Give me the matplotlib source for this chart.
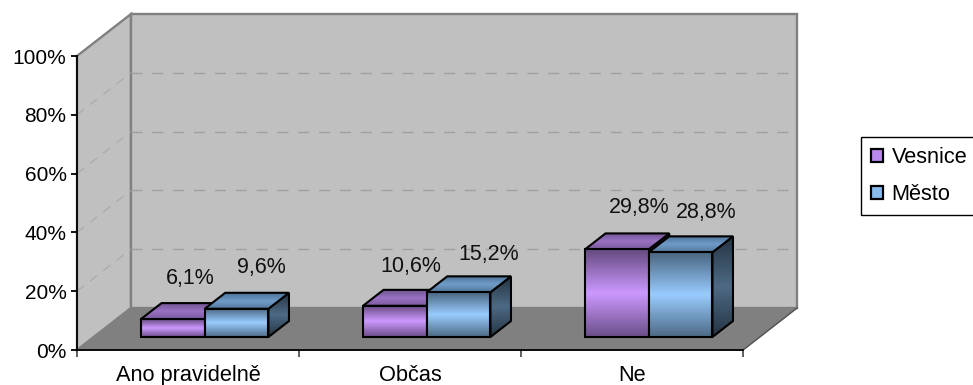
import numpy as np
import matplotlib
matplotlib.use('Agg')
import matplotlib.pyplot as plt
from matplotlib.colors import LinearSegmentedColormap
from matplotlib.patches import Patch, Polygon

plt.rcParams['font.family'] = ['Liberation Sans', 'DejaVu Sans']

categories = ['Ano pravidelně', 'Občas', 'Ne']
series_names = ['Vesnice', 'Město']
vesnice = [6.1, 10.6, 29.8]
mesto = [9.6, 15.2, 28.8]
value_labels = [['6,1%', '10,6%', '29,8%'], ['9,6%', '15,2%', '28,8%']]
y_ticks = [0, 20, 40, 60, 80, 100]
y_tick_labels = ['0%', '20%', '40%', '60%', '80%', '100%']

# label offsets from the top of each bar's front face, in pixels
label_offsets = [[(17, 41), (16, 39), (22, 42)], [(25, 41), (30, 38), (26, 40)]]

# oblique projection: how far one full unit of depth shifts a point
DX = 54 / 222
DY = 42 / 2.94
BAR_W = 0.287
BAR_D0 = 0.31
BAR_D1 = 0.69

front_cols = [['#654a80', '#cc99ff', '#6b4e88'], ['#4a6580', '#99ccff', '#4d6a85']]
top_cols = [['#6f5490', '#9a72c4', '#7a5a9c'], ['#4d7196', '#6f9cc8', '#54789c']]
side_cols = [['#3a2a4c', '#66508a', '#3a2a4c'], ['#243442', '#4d6a85', '#243442']]
legend_cols = ['#bb88ee', '#88bbee']


def proj(x, y, d):
    return x + d * DX, y + d * DY


def face(ax, pts, colors, z):
    # gradient running top to bottom, clipped to the polygon of the face
    xs = [p[0] for p in pts]
    ys = [p[1] for p in pts]
    cmap = LinearSegmentedColormap.from_list('f', colors)
    im = ax.imshow(np.linspace(0, 1, 128).reshape(-1, 1), cmap=cmap, aspect='auto', origin='upper',
                   extent=(min(xs), max(xs), min(ys), max(ys)), zorder=z)
    poly = Polygon(pts, closed=True, facecolor='none', edgecolor='black', lw=1.5, zorder=z + 0.1,
                   clip_on=False, joinstyle='miter')
    ax.add_patch(poly)
    im.set_clip_path(Polygon(pts, closed=True, transform=ax.transData))


def box(ax, x0, x1, v, front, top, side, z):
    face(ax, [proj(x1, 0, BAR_D0), proj(x1, 0, BAR_D1), proj(x1, v, BAR_D1), proj(x1, v, BAR_D0)], side, z)
    face(ax, [proj(x0, v, BAR_D0), proj(x1, v, BAR_D0), proj(x1, v, BAR_D1), proj(x0, v, BAR_D1)], top, z + 0.2)
    face(ax, [proj(x0, 0, BAR_D0), proj(x1, 0, BAR_D0), proj(x1, v, BAR_D0), proj(x0, v, BAR_D0)], front, z + 0.4)


fig = plt.figure(figsize=(9.73, 3.85), dpi=100)
ax = fig.add_axes([77 / 973, 35 / 385, 666 / 973, 294 / 385])
ax.patch.set_visible(False)

# walls and floor
wall = '#c0c0c0'
edge = '#808080'
back = [proj(0, 0, 1), proj(3, 0, 1), proj(3, 100, 1), proj(0, 100, 1)]
side_wall = [proj(0, 0, 0), proj(0, 0, 1), proj(0, 100, 1), proj(0, 100, 0)]
floor = [proj(0, 0, 0), proj(3, 0, 0), proj(3, 0, 1), proj(0, 0, 1)]
ax.add_patch(Polygon(side_wall, closed=True, fc=wall, ec=edge, lw=1.7, clip_on=False, zorder=1))
ax.add_patch(Polygon(back, closed=True, fc=wall, ec=edge, lw=1.7, clip_on=False, zorder=1))
ax.add_patch(Polygon(floor, closed=True, fc=edge, ec=edge, lw=1, clip_on=False, zorder=1.1))
ax.plot(*zip(proj(3, 0, 0), proj(3, 0, 1)), color='#555555', lw=1, clip_on=False, zorder=1.2)

# dashed gridlines across both walls
for t in y_ticks[1:-1]:
    ax.plot(*zip(proj(0, t, 1), proj(3, t, 1)), color='#a0a0a0', lw=1, ls=(0, (8, 7)), clip_on=False, zorder=1.2)
    ax.plot(*zip(proj(0, t, 0), proj(0, t, 1)), color='#a8a8a8', lw=0.8, ls=(0, (8, 7)), clip_on=False, zorder=1.2)

# bars, left group first, village bar behind the town bar
for i in range(len(categories)):
    z = 3 + i
    for s, values in enumerate([vesnice, mesto]):
        x0 = i + 0.5 - BAR_W + s * BAR_W
        box(ax, x0, x0 + BAR_W, values[i], front_cols[s], top_cols[s], side_cols[s], z + s * 0.5)
        ax.annotate(value_labels[s][i], proj(x0 + BAR_W / 2, values[i], BAR_D0), xycoords='data',
                    xytext=(label_offsets[s][i][0] * 0.72, label_offsets[s][i][1] * 0.72),
                    textcoords='offset points', ha='center', va='center', fontsize=15.5,
                    color='#111111', zorder=10, annotation_clip=False)

ax.set_xlim(0, 3)
ax.set_ylim(0, 100)
ax.spines['top'].set_visible(False)
ax.spines['right'].set_visible(False)
ax.spines['left'].set_linewidth(1.3)
ax.spines['bottom'].set_linewidth(1.3)
ax.set_yticks(y_ticks)
ax.set_yticklabels(y_tick_labels, fontsize=15)
ax.set_xticks([0, 1, 2, 3])
ax.set_xticklabels([])
ax.set_xticks([0.5, 1.5, 2.5], minor=True)
ax.set_xticklabels(categories, minor=True, fontsize=15.7)
ax.tick_params(axis='x', which='minor', length=0, pad=11)
ax.tick_params(axis='x', which='major', length=5, width=1.1, color='#333333')
ax.tick_params(axis='y', length=4.5, width=1.3, pad=3)

handles = [Patch(facecolor=c, edgecolor='black', linewidth=1.6) for c in legend_cols]
leg = fig.legend(handles, series_names, loc='upper left', bbox_to_anchor=(861 / 973, 1 - 137 / 385),
                 borderaxespad=0, fontsize=15.7, frameon=True, fancybox=False, edgecolor='black',
                 framealpha=1, handlelength=0.55, handleheight=0.55, handletextpad=0.4,
                 labelspacing=0.75, borderpad=0.45)
leg.get_frame().set_linewidth(1)

fig.savefig('out.png', dpi=100)
